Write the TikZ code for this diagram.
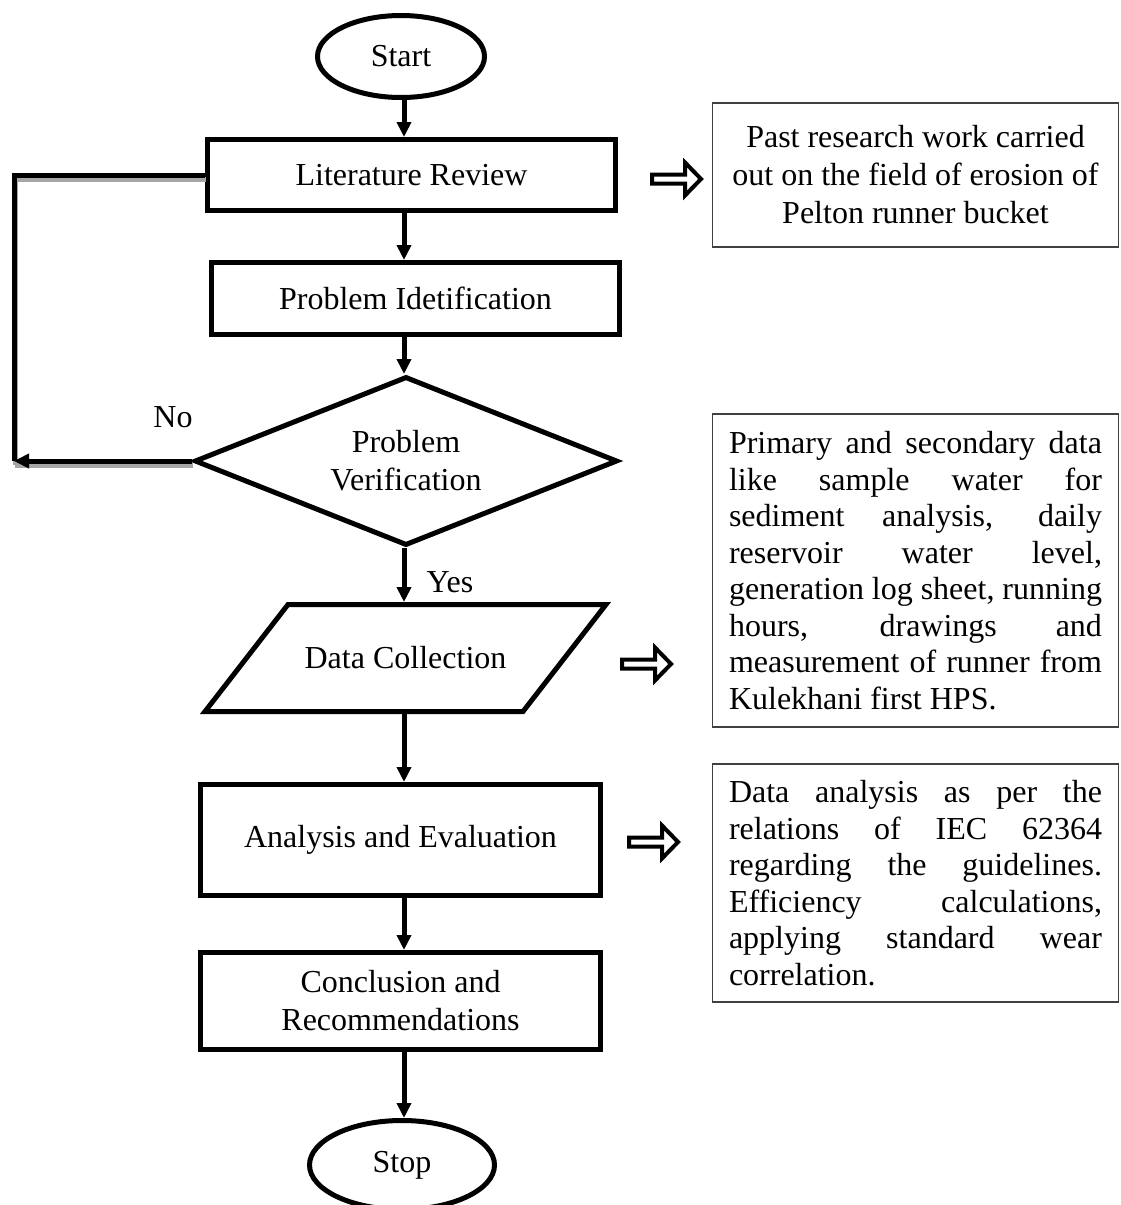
\documentclass[tikz,border=0pt]{standalone}
\usepackage{fontspec}
\setmainfont{Liberation Serif}
\usetikzlibrary{shapes.geometric,arrows.meta}
\newcommand\jline[1]{\makebox[373pt][s]{#1}}
\begin{document}
\begin{tikzpicture}[x=1pt,y=-1pt,
  every node/.style={font=\fontsize{32}{38}\selectfont},
  procbox/.style={draw,rectangle,line width=5pt,inner sep=0pt,align=center},
  term/.style={draw,ellipse,line width=5pt,inner sep=0pt},
  decis/.style={draw,diamond,aspect=2.45,line width=5pt,inner sep=0pt,align=center},
  ioanchor/.style={rectangle,draw=none,inner sep=0pt,outer sep=0pt},
  ioshape/.style={line width=5pt,line join=miter},
  notebox/.style={draw=black!75,line width=1.6pt,rectangle,inner sep=0pt,minimum width=406pt},
  flow/.style={line width=5pt,-{Triangle[length=15pt,width=14pt]}},
  fbline/.style={line width=5pt},
  fbshadow/.style={line width=5pt,draw=black!35},
  hollow/.pic={\draw[line width=4pt,line join=miter] (0,-4.5) -- (33,-4.5) -- (33,-16.5) -- (49,0) -- (33,16.5) -- (33,4.5) -- (0,4.5) -- cycle;}
]
\useasboundingbox (0,0) rectangle (1120,1205);

% main flow nodes
\node[term,minimum width=167pt,minimum height=82pt] (start) at (401,56.5) {Start};
\node[procbox,minimum width=408pt,minimum height=71pt] (lr) at (411.5,175) {Literature Review};
\node[procbox,minimum width=408pt,minimum height=72pt] (pi) at (415.5,298.5) {Problem Idetification};
\node[decis,minimum width=423pt,minimum height=169pt] (pv) at (406,461) {Problem\\Verification};
\node[ioanchor,minimum width=406pt,minimum height=112pt] (dc) at (405.5,658) {Data Collection};
\draw[ioshape] ([shift={(85.5,2.5)}]dc.north west) -- ([shift={(-2.5,2.5)}]dc.north east)
  -- ([shift={(-85.5,-2.5)}]dc.south east) -- ([shift={(2.5,-2.5)}]dc.south west) -- cycle;
\node[procbox,minimum width=400pt,minimum height=111pt] (ae) at (400.5,840) {Analysis and Evaluation};
\node[procbox,minimum width=400pt,minimum height=97pt] (cr) at (400.5,1001) {Conclusion and\\Recommendations};
\node[term,minimum width=185pt,minimum height=89pt] (stop) at (402,1165) {Stop};

% labels
\node (no) at (173,417) {No};
\node (yes) at (450,582) {Yes};

% note boxes
\node[notebox,minimum height=144pt,align=center] (n1) at (915.5,175)
  {Past research work carried\\out on the field of erosion of\\Pelton runner bucket};
\node[notebox,minimum height=313pt] (n2) at (915.5,570.5)
  {\parbox{373pt}{\fontsize{32}{36.5}\selectfont
   \jline{Primary and secondary data}\\
   \jline{like sample water for}\\
   \jline{sediment analysis, daily}\\
   \jline{reservoir water level,}\\
   \jline{generation log sheet, running}\\
   \jline{hours, drawings and}\\
   \jline{measurement of runner from}\\
   Kulekhani first HPS.}};
\node[notebox,minimum height=238pt] (n3) at (915.5,883)
  {\parbox{373pt}{\fontsize{32}{36.5}\selectfont
   \jline{Data analysis as per the}\\
   \jline{relations of IEC 62364}\\
   \jline{regarding the guidelines.}\\
   \jline{Efficiency calculations,}\\
   \jline{applying standard wear}\\
   correlation.}};

% hollow arrows
\pic (h1) at (652,179) {hollow};
\pic (h2) at (622,664) {hollow};
\pic (h3) at (629,842) {hollow};

% connectors
\coordinate (spine) at (404,0);
\coordinate (fbx) at (14,0);
\draw[flow] (start.south -| spine) -- (lr.north -| spine);
\draw[flow] (lr.south -| spine) -- (pi.north -| spine);
\draw[flow] (pi.south -| spine) -- (pv.north -| spine);
\draw[flow] (pv.south -| spine) -- (dc.north -| spine);
\draw[flow] (dc.south -| spine) -- (ae.north -| spine);
\draw[flow] (ae.south -| spine) -- (cr.north -| spine);
\draw[flow] (cr.south -| spine) -- (stop.north -| spine);

% feedback loop (No)
\draw[fbshadow] ([shift={(1,4)}]lr.west) -| ([shift={(1,4)}]pv.west -| fbx);
\draw[fbshadow] ([shift={(1,4)}]pv.west) -- ([shift={(1,4)}]pv.west -| fbx);
\draw[fbline] (lr.west) -| (pv.west -| fbx);
\draw[flow] (pv.west) -- (pv.west -| fbx);
\end{tikzpicture}
\end{document}
